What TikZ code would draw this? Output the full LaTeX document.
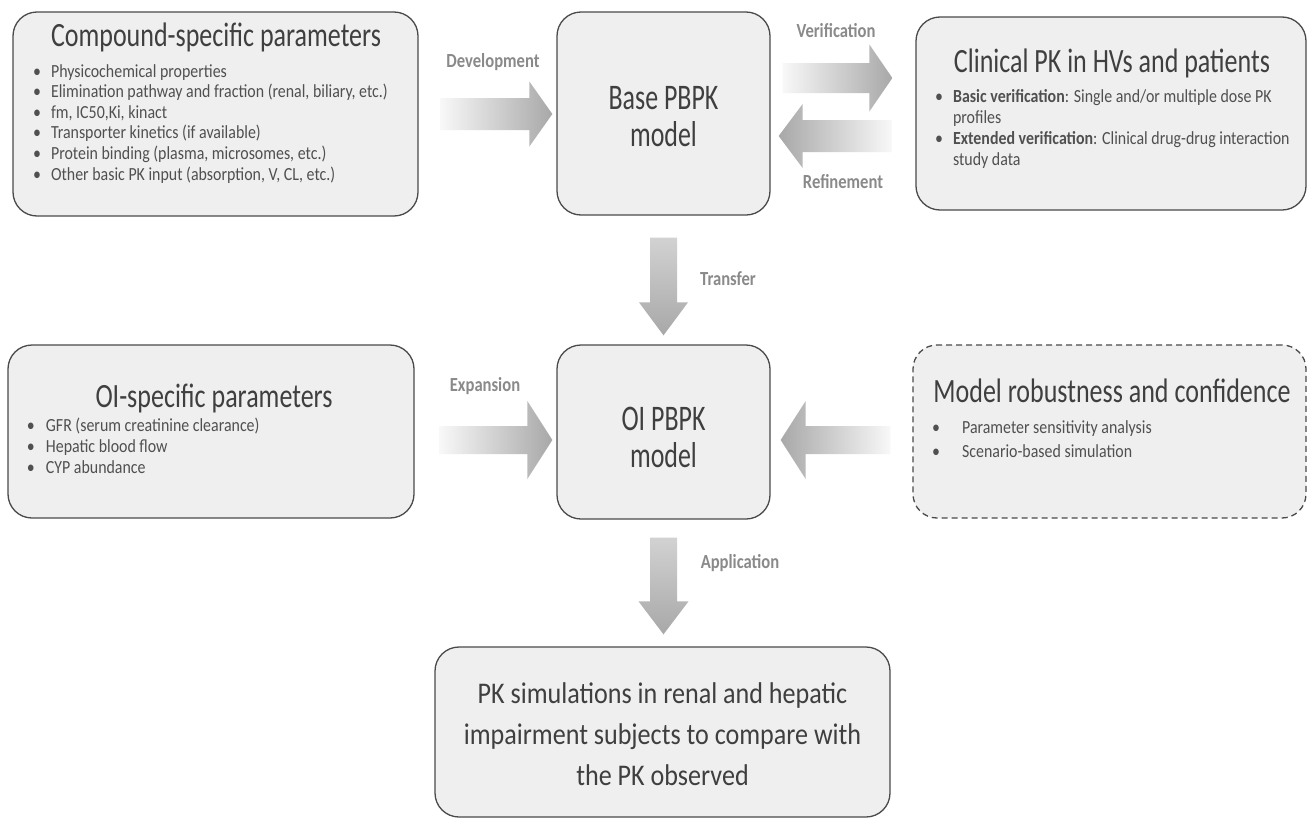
\documentclass[tikz,border=0pt]{standalone}
\usepackage{fontspec}
\setmainfont{Carlito}
\usepackage{graphicx}
\usetikzlibrary{calc}
\definecolor{boxfill}{HTML}{EFEFEF}
\definecolor{boxline}{HTML}{4A4A4A}
\definecolor{ttlcol}{HTML}{3F3F3F}
\definecolor{txtcol}{HTML}{505050}
\definecolor{lblcol}{HTML}{8A8A8A}
\definecolor{arrdark}{HTML}{A8A8A8}
\definecolor{arrlight}{HTML}{F8F8F8}
\definecolor{arrmid}{HTML}{ECECEC}
\definecolor{arrtop}{HTML}{D2D2D2}
\newlength{\bgap}
\newcommand{\ttl}[1]{\scalebox{0.765}[1]{\fontsize{34}{40}\selectfont #1}}
\newcommand{\bigtxt}[3]{\scalebox{#1}[1]{\fontsize{36}{#2}\selectfont\begin{tabular}[t]{@{}c@{}}#3\end{tabular}}}
\newcommand{\blist}[3]{\setlength{\bgap}{#2}\scalebox{0.86}[1]{\fontsize{18.5}{#1}\selectfont\begin{tabular}[t]{@{}l@{}}#3\end{tabular}}}
\newcommand{\bi}[1]{\makebox[\bgap][l]{•}#1}
\newcommand{\bc}[1]{\hspace*{\bgap}#1}
\newcommand{\lbl}[1]{\scalebox{0.83}[1]{\fontsize{20}{24}\selectfont\bfseries #1}}
\newcommand{\fatR}[5]{\shade[left color=arrlight,right color=arrdark] let \p1=(#1),\p2=(#2) in
 (\x1,{\y1+#3pt}) -- ({\x2-#5pt},{\y1+#3pt}) -- ({\x2-#5pt},{\y1+#4pt}) -- (\x2,\y1) -- ({\x2-#5pt},{\y1-#4pt}) -- ({\x2-#5pt},{\y1-#3pt}) -- (\x1,{\y1-#3pt}) -- cycle;}
\newcommand{\fatL}[5]{\shade[left color=arrdark,right color=arrlight] let \p1=(#1),\p2=(#2) in
 (\x1,{\y1+#3pt}) -- ({\x2+#5pt},{\y1+#3pt}) -- ({\x2+#5pt},{\y1+#4pt}) -- (\x2,\y1) -- ({\x2+#5pt},{\y1-#4pt}) -- ({\x2+#5pt},{\y1-#3pt}) -- (\x1,{\y1-#3pt}) -- cycle;}
\newcommand{\fatD}[5]{\shade[top color=arrtop,middle color=arrmid,bottom color=arrdark] let \p1=(#1),\p2=(#2) in
 ({\x1-#3pt},\y1) -- ({\x1-#3pt},{\y2+#5pt}) -- ({\x1-#4pt},{\y2+#5pt}) -- (\x1,\y2) -- ({\x1+#4pt},{\y2+#5pt}) -- ({\x1+#3pt},{\y2+#5pt}) -- ({\x1+#3pt},\y1) -- cycle;}
\begin{document}
\begin{tikzpicture}[x=1pt,y=-1pt,
  box/.style={draw=boxline, fill=boxfill, line width=1.3pt, rounded corners=24pt, inner sep=0pt},
  dbox/.style={box, dash pattern=on 6pt off 4pt},
  txt/.style={inner sep=0pt, outer sep=0pt},
  ttlnode/.style={txt, anchor=base, text=ttlcol},
  lst/.style={txt, anchor=base west, text=txtcol},
  lblnode/.style={txt, anchor=base, text=lblcol}]
\useasboundingbox (0,0) rectangle (1308,819);
\fill[white] (0,0) rectangle (1308,819);
% boxes
\node[box, minimum width=405pt, minimum height=204pt] (comp) at (215.5,114) {};
\node[box, minimum width=213pt, minimum height=203pt] (base) at (663.5,113.5) {};
\node[box, minimum width=390pt, minimum height=193pt] (clin) at (1111,113.5) {};
\node[box, minimum width=406pt, minimum height=173pt] (oi) at (211,431.5) {};
\node[box, minimum width=213pt, minimum height=174pt] (oipb) at (663.5,432) {};
\node[dbox, minimum width=393pt, minimum height=173pt] (rob) at (1109.5,431.5) {};
\node[box, minimum width=455pt, minimum height=170pt] (sim) at (662.5,732) {};
% arrow end points
\coordinate (devA) at ($(comp.east)+(22,0)$);
\coordinate (devB) at ($(base.west)+(-4,0.5)$);
\coordinate (verA) at ($(base.east)+(12,-35.5)$);
\coordinate (verB) at ($(clin.west)+(-23,-35.5)$);
\coordinate (refA) at ($(clin.west)+(-24,22.5)$);
\coordinate (refB) at ($(base.east)+(8,22.5)$);
\coordinate (trA) at ($(base.south)+(0,22)$);
\coordinate (trB) at ($(oipb.north)+(0,-9)$);
\coordinate (expA) at ($(oi.east)+(25,8.5)$);
\coordinate (expB) at ($(oipb.west)+(-4,8)$);
\coordinate (robA) at ($(rob.west)+(-22,8.5)$);
\coordinate (robB) at ($(oipb.east)+(10,8)$);
\coordinate (apA) at ($(oipb.south)+(0,18)$);
\coordinate (apB) at ($(sim.north)+(0,-12)$);
% block arrows
\fatR{devA}{devB}{16}{32.5}{23}
\fatR{verA}{verB}{15}{33.5}{23}
\fatL{refA}{refB}{16}{32}{24}
\fatD{trA}{trB}{13.5}{24.5}{33}
\fatR{expA}{expB}{14}{39}{25}
\fatL{robA}{robB}{14}{39}{25}
\fatD{apA}{apB}{13.5}{25}{33}
% arrow labels
\node[lblnode] (ldev) at (493,67) {\lbl{Development}};
\node[lblnode] (lver) at (836,37) {\lbl{Verification}};
\node[lblnode] (lref) at (843,188) {\lbl{Refinement}};
\node[lblnode] (ltr) at (728,285) {\lbl{Transfer}};
\node[lblnode] (lexp) at (485,391) {\lbl{Expansion}};
\node[lblnode] (lap) at (740,568) {\lbl{Application}};
% texts
\node[ttlnode] (compt) at (216,46) {\ttl{Compound-specific parameters}};
\node[lst] (compl) at (33,77) {\blist{20.6pt}{21pt}{%
 \bi{Physicochemical properties}\\
 \bi{Elimination pathway and fraction (renal, biliary, etc.)}\\
 \bi{fm, IC50,Ki, kinact}\\
 \bi{Transporter kinetics (if available)}\\
 \bi{Protein binding (plasma, microsomes, etc.)}\\
 \bi{Other basic PK input (absorption, V, CL, etc.)}}};
\node[ttlnode] (basetx) at (663.5,109) {\bigtxt{0.72}{37pt}{Base PBPK\\model}};
\node[ttlnode] (clint) at (1112,72) {\ttl{Clinical PK in HVs and patients}};
\node[lst] (clinl) at (935,102) {\blist{21pt}{21pt}{%
 \bi{\textbf{Basic verification}: Single and/or multiple dose PK}\\
 \bc{profiles}\\
 \bi{\textbf{Extended verification}: Clinical drug-drug interaction}\\
 \bc{study data}}};
\node[ttlnode] (oit) at (214,407) {\ttl{OI-specific parameters}};
\node[lst] (oil) at (27,431) {\blist{21pt}{22pt}{%
 \bi{GFR (serum creatinine clearance)}\\
 \bi{Hepatic blood flow}\\
 \bi{CYP abundance}}};
\node[ttlnode] (oipbtx) at (663.5,430) {\bigtxt{0.72}{37pt}{OI PBPK\\model}};
\node[ttlnode] (robt) at (1112,402) {\ttl{Model robustness and confidence}};
\node[lst] (robl) at (932,433) {\blist{24pt}{35pt}{%
 \bi{Parameter sensitivity analysis}\\
 \bi{Scenario-based simulation}}};
\node[ttlnode] (simtx) at (662.5,703) {\bigtxt{0.87}{41pt}{\fontsize{30}{41}\selectfont PK simulations in renal and hepatic\\ \fontsize{30}{41}\selectfont impairment subjects to compare with\\ \fontsize{30}{41}\selectfont the PK observed}};
\end{tikzpicture}
\end{document}
